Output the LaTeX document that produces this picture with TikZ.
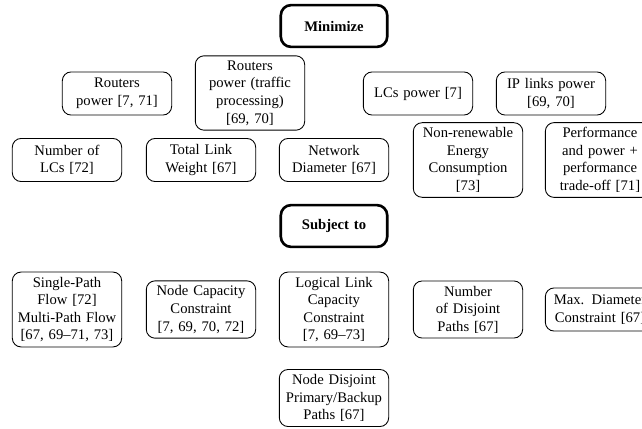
\documentclass[tikz,border=0pt]{standalone}
\usepackage{fontspec}
\setmainfont{Liberation Serif}
\begin{document}
\begin{tikzpicture}[x=0.6826pt, y=-0.6826pt, every node/.style = {shape=rectangle, rounded corners=6pt, draw, line width=0.6pt, align=center, text width=68pt, minimum height=29.4pt}]
			\tikzstyle{head}=[line width=1.8pt, rounded corners=7pt, font=\bfseries, text width=66pt, minimum height=28.5pt]
			\clip (0,0) rectangle (642,429);
			% objective
			\node[head] (minimize) at (334,26) {Minimize};
			\node (rpower) at (117,93.5) {Routers\\power [7, 71]};
			\node (rtraffic) at (250,93) {Routers\\power (traffic\\processing)\\[0pt][69, 70]};
			\node (lcpower) at (418,93.5) {LCs power [7]};
			\node (iplinks) at (551,93.5) {IP links power\\[0pt][69, 70]};
			\node (numlcs) at (67,160) {Number of\\LCs [72]};
			\node (weight) at (201,160) {Total Link\\Weight [67]};
			\node (diameter) at (334,160) {Network\\Diameter [67]};
			\node (nonrenew) at (468,160) {Non-renewable\\Energy\\Consumption\\[0pt][73]};
			\node (perf) at (600,160) {Performance\\and power +\\performance\\trade-off [71]};
			% constraints
			\node[head] (subject) at (334,226) {Subject to};
			\node (flow) at (67,309.5) {Single-Path\\Flow [72]\\Multi-Path Flow\\[0pt][67, 69--71, 73]};
			\node (nodecap) at (201,309.5) {Node Capacity\\Constraint\\[0pt][7, 69, 70, 72]};
			\node (linkcap) at (334,309.5) {Logical Link\\Capacity\\Constraint\\[0pt][7, 69--73]};
			\node (disjoint) at (468,309.5) {Number\\of Disjoint\\Paths [67]};
			\node (maxdiam) at (600,309.5) {Max. Diameter\\Constraint [67]};
			\node (backup) at (334,398) {Node Disjoint\\Primary/Backup\\Paths [67]};
		\end{tikzpicture}
\end{document}
